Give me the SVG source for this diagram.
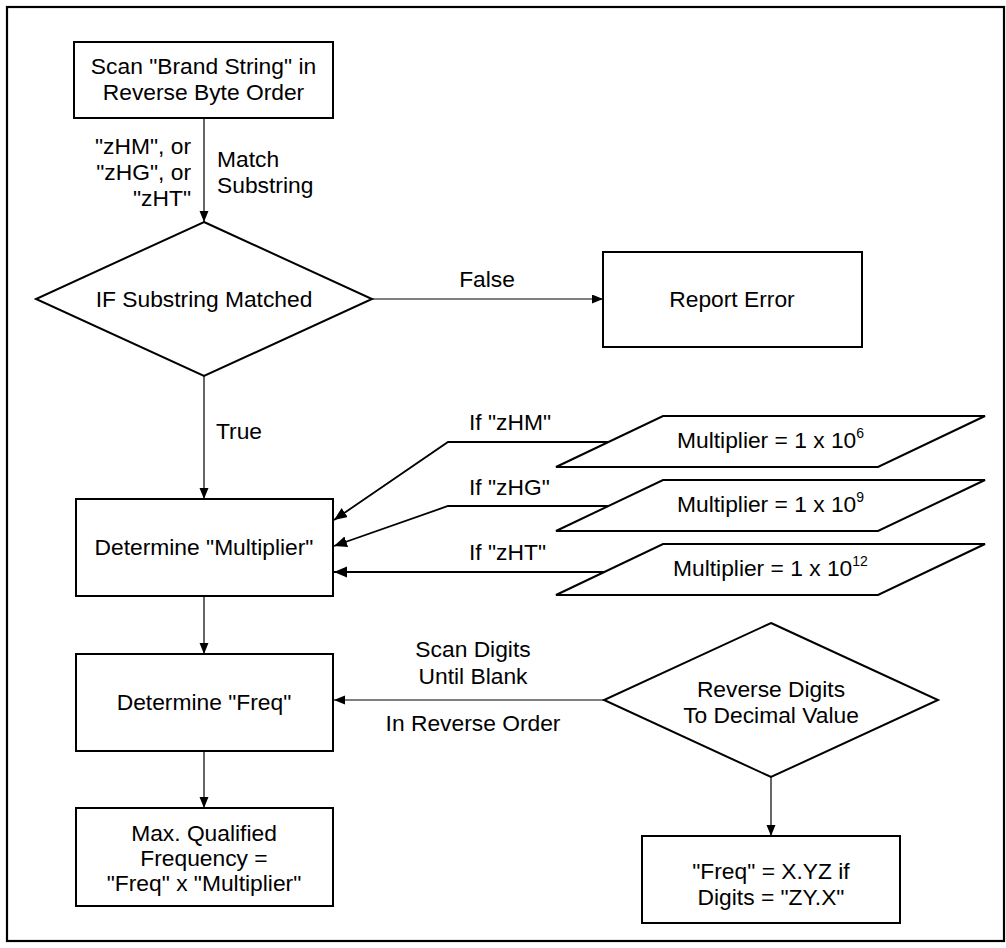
<svg xmlns="http://www.w3.org/2000/svg" width="1006" height="948" viewBox="0 0 1006 948">
<style>
.node{fill:#fff;stroke:#000;stroke-width:2}
.t{font-family:"Liberation Sans",Arial,sans-serif;font-size:22.8px;fill:#000}
.c{text-anchor:middle}
.e{text-anchor:end}
.ln{fill:none;stroke:#000;stroke-width:1.2}
.lk{fill:none;stroke:#000;stroke-width:1.8}
.sup{font-size:14px}
</style>
<defs>
<marker id="ah" markerUnits="userSpaceOnUse" markerWidth="12" markerHeight="10" refX="11" refY="4.5" orient="auto">
<path d="M0,0 L11,4.5 L0,9 z" fill="#000"/>
</marker>
<marker id="ah2" markerUnits="userSpaceOnUse" markerWidth="14" markerHeight="12" refX="13" refY="5.5" orient="auto">
<path d="M0,0 L13,5.5 L0,11 z" fill="#000"/>
</marker>
</defs>
<rect x="0" y="0" width="1006" height="948" fill="#fff"/>
<rect x="7" y="7" width="997" height="934" fill="none" stroke="#000" stroke-width="2.2"/>

<g id="connectors">
<line class="ln" x1="204" y1="118" x2="204" y2="222" marker-end="url(#ah)"/>
<line class="ln" x1="372" y1="299" x2="603" y2="299" marker-end="url(#ah)"/>
<line class="ln" x1="204" y1="376" x2="204" y2="499" marker-end="url(#ah)"/>
<polyline class="lk" points="608,442 448,442 334,520" marker-end="url(#ah2)"/>
<polyline class="lk" points="608,506 448,506 334,546" marker-end="url(#ah2)"/>
<line class="lk" x1="605" y1="572" x2="334" y2="572" marker-end="url(#ah2)"/>
<line class="ln" x1="204" y1="596" x2="204" y2="654" marker-end="url(#ah)"/>
<line class="ln" x1="604" y1="700" x2="334" y2="700" marker-end="url(#ah)"/>
<line class="ln" x1="204" y1="751" x2="204" y2="808" marker-end="url(#ah)"/>
<line class="ln" x1="771" y1="777" x2="771" y2="836" marker-end="url(#ah)"/>
<g id="labels">
<text class="t e" x="191" y="154">"zHM", or</text>
<text class="t e" x="191" y="180">"zHG", or</text>
<text class="t e" x="191" y="206">"zHT"</text>
<text class="t" x="217" y="167">Match</text>
<text class="t" x="217" y="193">Substring</text>
<text class="t c" x="487" y="287">False</text>
<text class="t" x="216" y="439">True</text>
<text class="t" x="469" y="430">If "zHM"</text>
<text class="t" x="469" y="495">If "zHG"</text>
<text class="t" x="469" y="560">If "zHT"</text>
<text class="t c" x="473" y="657">Scan Digits</text>
<text class="t c" x="473" y="684">Until Blank</text>
<text class="t c" x="473" y="731">In Reverse Order</text>
</g>
</g>

<g id="scan">
<rect class="node" x="74" y="42" width="259" height="76"/>
<text class="t c" x="203.5" y="74">Scan "Brand String" in</text>
<text class="t c" x="203.5" y="100">Reverse Byte Order</text>
</g>

<g id="ifmatched">
<polygon class="node" points="204,222 372,299 204,376 36,299"/>
<text class="t c" x="204" y="307">IF Substring Matched</text>
</g>

<g id="reporterror">
<rect class="node" x="603" y="252" width="259" height="95"/>
<text class="t c" x="732" y="307">Report Error</text>
</g>

<g id="mult6">
<polygon class="node" points="663,416 985,416 878,467 556,467"/>
<text class="t" x="677" y="448">Multiplier = 1 x 10<tspan class="sup" dy="-10">6</tspan></text>
</g>
<g id="mult9">
<polygon class="node" points="663,480 985,480 878,531 556,531"/>
<text class="t" x="677" y="512">Multiplier = 1 x 10<tspan class="sup" dy="-10">9</tspan></text>
</g>
<g id="mult12">
<polygon class="node" points="663,544 985,544 878,595 556,595"/>
<text class="t" x="673" y="576">Multiplier = 1 x 10<tspan class="sup" dy="-10">12</tspan></text>
</g>

<g id="determinemult">
<rect class="node" x="76" y="499" width="257" height="97"/>
<text class="t c" x="204" y="555">Determine "Multiplier"</text>
</g>

<g id="determinefreq">
<rect class="node" x="76" y="654" width="257" height="97"/>
<text class="t c" x="204" y="710">Determine "Freq"</text>
</g>

<g id="reversedigits">
<polygon class="node" points="771,623 938,700 771,777 604,700"/>
<text class="t c" x="771" y="697">Reverse Digits</text>
<text class="t c" x="771" y="723">To Decimal Value</text>
</g>

<g id="maxfreq">
<rect class="node" x="76" y="808" width="257" height="98"/>
<text class="t c" x="204" y="841">Max. Qualified</text>
<text class="t c" x="204" y="866">Frequency =</text>
<text class="t c" x="204" y="891">"Freq" x "Multiplier"</text>
</g>

<g id="freqvalue">
<rect class="node" x="642" y="836" width="258" height="87"/>
<text class="t c" x="771" y="879">"Freq" = X.YZ if</text>
<text class="t c" x="771" y="905">Digits = "ZY.X"</text>
</g>
</svg>
